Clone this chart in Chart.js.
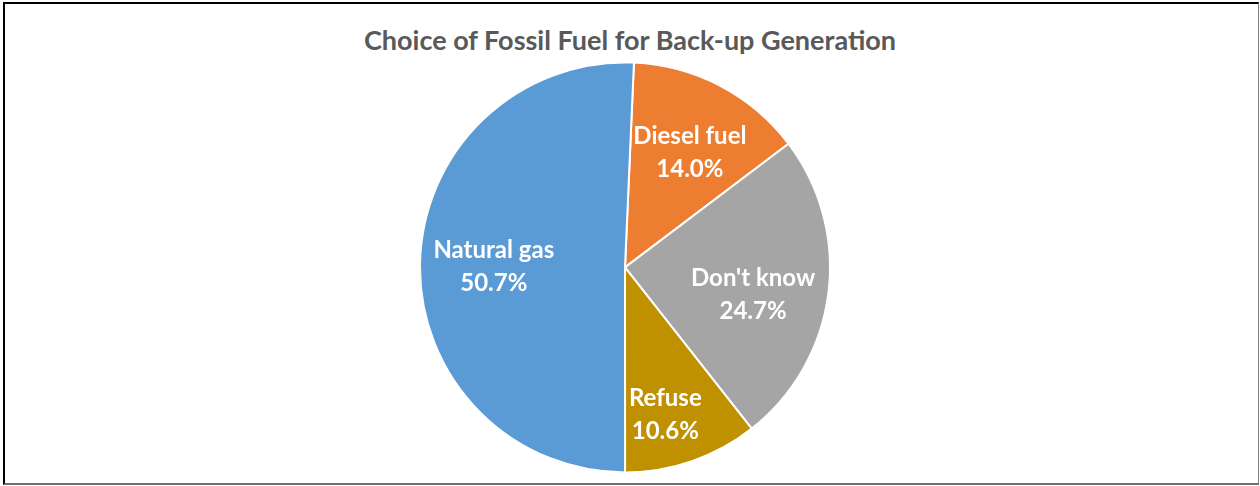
<!DOCTYPE html>
<html>
<head>
<meta charset="utf-8">
<script src="https://cdn.jsdelivr.net/npm/chart.js@4"></script>
<style>
    html, body { margin: 0; padding: 0; background: #fff; }
    #wrap { position: relative; width: 1260px; height: 486px; overflow: hidden; }
    #frame {
        position: absolute; left: 3px; top: 2px; width: 1253px; height: 479px;
        border-left: 2px solid #000; border-top: 2px solid #000;
        border-right: 1px solid #7f7f7f; border-bottom: 2px solid #6f6f6f;
    }
    #title {
        position: absolute; left: 0; top: 24px; width: 1260px; text-align: center;
        font: bold 27px Lato, sans-serif; color: #595959; line-height: 32px;
    }
    canvas { position: absolute; left: 0; top: 0; }
</style>
</head>
<body>
<div id="wrap">
    <div id="frame"></div>
    <div id="title">Choice of Fossil Fuel for Back-up Generation</div>
    <canvas id="fuelChart" width="1260" height="486"></canvas>
</div>
<script>
const categories = ['Diesel fuel', "Don't know", 'Refuse', 'Natural gas'];
const shares = [14.0, 24.7, 10.6, 50.7];
const sliceColors = ['#ED7D31', '#A5A5A5', '#BF9000', '#5B9BD5'];

// label placement: fraction of radius, then a small pixel nudge
const labelDistance = [0.66, 0.63, 0.75, 0.64];
const labelNudge = [[2, 5], [0, 10], [-10, 2], [0, 2]];

const sliceLabels = {
    id: 'sliceLabels',
    afterDatasetsDraw(chart) {
        const ctx = chart.ctx;
        const arcs = chart.getDatasetMeta(0).data;
        ctx.save();
        ctx.fillStyle = '#ffffff';
        ctx.font = 'bold 24px Lato, sans-serif';
        ctx.textAlign = 'center';
        ctx.textBaseline = 'middle';
        arcs.forEach((arc, i) => {
            const p = arc.getProps(['x', 'y', 'startAngle', 'endAngle', 'outerRadius'], true);
            const mid = (p.startAngle + p.endAngle) / 2;
            const r = p.outerRadius * labelDistance[i];
            const cx = p.x + Math.cos(mid) * r + labelNudge[i][0];
            const cy = p.y + Math.sin(mid) * r + labelNudge[i][1];
            ctx.fillText(categories[i], cx, cy - 16);
            ctx.fillText(shares[i].toFixed(1) + '%', cx, cy + 17);
        });
        ctx.restore();
    }
};

new Chart(document.getElementById('fuelChart').getContext('2d'), {
    type: 'pie',
    data: {
        labels: categories,
        datasets: [{
            data: shares,
            backgroundColor: sliceColors,
            borderColor: '#ffffff',
            borderWidth: 2
        }]
    },
    options: {
        responsive: false,
        animation: false,
        rotation: 2.5,
        layout: {
            padding: { top: 61.4, left: 0, right: 10, bottom: 12.6 }
        },
        plugins: {
            legend: { display: false },
            tooltip: { enabled: false },
            title: { display: false }
        }
    },
    plugins: [sliceLabels]
});
</script>
</body>
</html>
